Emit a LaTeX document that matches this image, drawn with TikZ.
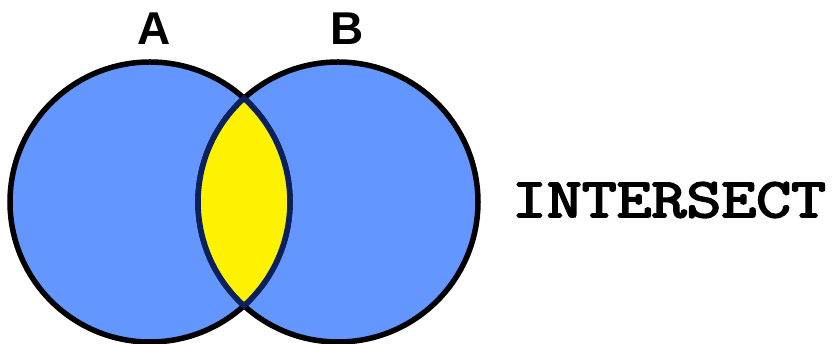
\documentclass[tikz,border=0pt]{standalone}
\usepackage{fontspec}
\newfontfamily\labelfont{Liberation Sans}
\newfontfamily\codefont{Latin Modern Mono}[FakeBold=3]
\definecolor{setblue}{RGB}{99,150,255}
\definecolor{lensedge}{RGB}{12,32,92}
\begin{document}
\begin{tikzpicture}[x=1pt,y=1pt,
  setcircle/.style={fill=setblue,draw=black,line width=5.5pt},
  lens/.style={fill=yellow,draw=lensedge,line width=5.5pt,line join=miter},
  setlabel/.style={inner sep=0pt,font=\labelfont\bfseries\fontsize{46}{46}\selectfont},
  oplabel/.style={inner sep=0pt,xscale=1.21,font=\codefont\fontsize{56}{56}\selectfont}]
\useasboundingbox (0,0) rectangle (833,344);
\coordinate (cA) at (150,142);
\coordinate (cB) at (338,142);
\coordinate (P) at (244,245.7);
\coordinate (Q) at (244,38.3);
\fill[setblue] (cA) circle (140);
\fill[setblue] (cB) circle (140);
\draw[black,line width=5.5pt] (cA) circle (140);
\draw[black,line width=5.5pt] (cB) circle (140);
\draw[lens] (P) arc[start angle=132.2,end angle=227.8,radius=140]
  arc[start angle=-47.8,end angle=47.8,radius=140] -- cycle;
\node[setlabel] (labA) at (154.5,315.5) {A};
\node[setlabel] (labB) at (347.5,315.5) {B};
\node[oplabel] (op) at (669,144) {INTERSECT};
\end{tikzpicture}
\end{document}
